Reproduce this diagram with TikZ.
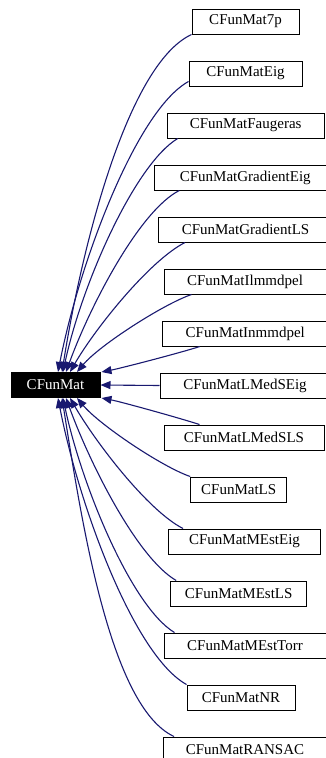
\documentclass[tikz,border=0pt]{standalone}
\usepackage[dvipsnames,svgnames]{xcolor}
\usepackage{fontspec}
\setmainfont{Liberation Serif}
\usepackage{tikz}
\usetikzlibrary{arrows.meta}

\tikzset{
  cls/.style={draw=black, line width=1pt, fill=white, inner sep=0pt,
    minimum height=25pt, font=\fontsize{15}{18}\selectfont},
  base/.style={cls, fill=black, text=white},
  inh/.style={color=MidnightBlue, line width=1.1pt, -{Triangle[length=10pt,width=8pt]}}
}

\begin{document}
\begin{tikzpicture}[x=1pt, y=1pt]
  \useasboundingbox (0,0) rectangle (326,-758);
  \clip (0,0) rectangle (326,-758);

  % base class
  \node[base, minimum width=89pt] (cfm) at (55.5,-385) {CFunMat};

  % derived classes
  \node[cls, minimum width=107pt] (c7p)       at (245.5,-21.5)  {CFunMat7p};
  \node[cls, minimum width=113pt] (cEig)      at (245.5,-73.5)  {CFunMatEig};
  \node[cls, minimum width=157pt] (cFaug)     at (245.7,-125.5) {CFunMatFaugeras};
  \node[cls, minimum width=181pt] (cGradEig)  at (245.3,-177.5) {CFunMatGradientEig};
  \node[cls, minimum width=174pt] (cGradLS)   at (245.5,-229.5) {CFunMatGradientLS};
  \node[cls, minimum width=162pt] (cIlmm)     at (245,-281.5)   {CFunMatIlmmdpel};
  \node[cls, minimum width=166pt] (cInmm)     at (245.3,-333.5) {CFunMatInmmdpel};
  \node[cls, minimum width=170pt] (cLMedSEig) at (245,-385.5)   {CFunMatLMedSEig};
  \node[cls, minimum width=160pt] (cLMedSLS)  at (244,-437.5)   {CFunMatLMedSLS};
  \node[cls, minimum width=96pt]  (cLS)       at (238.7,-489.5) {CFunMatLS};
  \node[cls, minimum width=152pt] (cMEstEig)  at (244.5,-541.5) {CFunMatMEstEig};
  \node[cls, minimum width=136pt] (cMEstLS)   at (238.7,-593.5) {CFunMatMEstLS};
  \node[cls, minimum width=162pt] (cMEstTorr) at (245,-645.5)   {CFunMatMEstTorr};
  \node[cls, minimum width=108pt] (cNR)       at (241,-697.5)   {CFunMatNR};
  \node[cls, minimum width=163pt] (cRANSAC)   at (245,-749.5)   {CFunMatRANSAC};

  % inheritance arrows, upper half
  \path[inh]
    (c7p.south west) edge[out=205, in=81, out distance=70pt, in distance=130pt] ([xshift=6.5pt]cfm.north)
    ([yshift=5pt]cEig.south west) edge[out=209, in=79, out distance=60pt, in distance=110pt] ([xshift=2.5pt]cfm.north)
    ([xshift=11pt]cFaug.south west) edge[out=211, in=78, out distance=50pt, in distance=90pt] ([xshift=7.5pt]cfm.north)
    ([xshift=25pt]cGradEig.south west) edge[out=207, in=70, out distance=45pt, in distance=70pt] ([xshift=10.5pt]cfm.north)
    ([xshift=27pt]cGradLS.south west) edge[out=207, in=60, out distance=40pt, in distance=50pt] ([xshift=14.5pt]cfm.north)
    ([xshift=28pt]cIlmm.south west) edge[out=199, in=50, out distance=30pt, in distance=35pt] ([xshift=21.5pt]cfm.north)
    ([xshift=38pt]cInmm.south west) edge[out=198, in=11, out distance=20pt, in distance=20pt] ([xshift=1pt]cfm.north east)
    (cLMedSEig.west) edge (cfm.east);

  % inheritance arrows, lower half
  \path[inh]
    ([xshift=36pt]cLMedSLS.north west) edge[out=162, in=-11, out distance=20pt, in distance=20pt] ([xshift=1pt]cfm.south east)
    (cLS.north west) edge[out=161, in=-50, out distance=30pt, in distance=35pt] ([xshift=21.5pt]cfm.south)
    ([xshift=15pt]cMEstEig.north west) edge[out=153, in=-60, out distance=40pt, in distance=50pt] ([xshift=14.5pt]cfm.south)
    ([xshift=6pt]cMEstLS.north west) edge[out=150, in=-70, out distance=45pt, in distance=70pt] ([xshift=10.5pt]cfm.south)
    ([xshift=11pt]cMEstTorr.north west) edge[out=149, in=-78, out distance=50pt, in distance=90pt] ([xshift=7.5pt]cfm.south)
    (cNR.north west) edge[out=151, in=-79, out distance=60pt, in distance=110pt] ([xshift=2.5pt]cfm.south)
    ([xshift=11pt]cRANSAC.north west) edge[out=155, in=-81, out distance=70pt, in distance=130pt] ([xshift=6.5pt]cfm.south);
\end{tikzpicture}
\end{document}
